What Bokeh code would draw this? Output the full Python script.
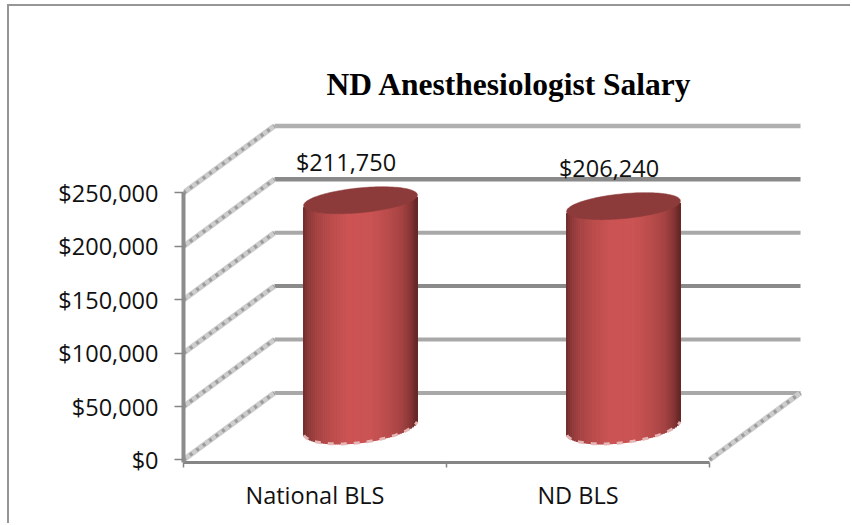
import numpy as np
from bokeh.embed import file_html
from bokeh.resources import INLINE
from bokeh.plotting import figure
from bokeh.models import Range1d, FixedTicker, Title
from bokeh.core.properties import value

title_text = "ND Anesthesiologist Salary"
categories = ["National BLS", "ND BLS"]
salaries = [211750, 206240]
y_ticks = [0, 50000, 100000, 150000, 200000, 250000]
y_tick_labels = ["$0", "$50,000", "$100,000", "$150,000", "$200,000", "$250,000"]
wall_colors = ["#a8a8a8", "#a8a8a8", "#8a8a8a", "#a8a8a8", "#8a8a8a", "#b0b0b0"]
wall_widths = [4, 4, 4, 4, 4.5, 4.5]

# Layout in page pixels of the reference
PAGE_X, PAGE_Y = 9, 6            # top-left corner of the canvas on the page
W, H = 843, 519
X0, Y0 = 183, 459.4              # position of category 0 / value 0
BOTTOM, RIGHT, TOP = 462.0, 806, 118
PX_CAT = 263.0                   # pixels per category
PX_VAL = 267.0 / 250000          # pixels per dollar
DX = 91.0 / PX_CAT               # depth offset of the chart box, in categories
DY = 67.0 / PX_VAL               # depth offset of the chart box, in dollars
A, D = 52.5 / PX_CAT, 22.0 / PX_CAT   # cylinder radii along categories, and the depth lean
E = 13.5 / PX_VAL                # cylinder vertical half-height of the ellipse
BASE = 1.3                       # the base ellipse bulges slightly more than the top one

F = "Open Sans"
FS = "23.5px"

p = figure(width=W, height=H, output_backend="svg", toolbar_location=None,
           x_range=Range1d(0, (RIGHT - X0) / PX_CAT),
           y_range=Range1d((Y0 - BOTTOM) / PX_VAL, (Y0 - TOP) / PX_VAL),
           min_border_left=X0 - PAGE_X, min_border_right=PAGE_X + W - RIGHT,
           min_border_top=TOP - PAGE_Y, min_border_bottom=PAGE_Y + H - int(BOTTOM),
           margin=(PAGE_Y, 0, 0, PAGE_X),
           styles={"box-shadow": "-2px -2px 0 0 #969696"})
p.outline_line_color = None
p.grid.visible = False


def project(cat, depth, val):
    return np.asarray(cat) + np.asarray(depth) * DX, np.asarray(val) + np.asarray(depth) * DY


# back wall
for v, c, w in zip(y_ticks, wall_colors, wall_widths):
    xs, ys = project([0, 2], [1, 1], [v, v])
    p.line(xs, ys, line_color=c, line_width=w)

# side wall and floor edge
edges = [(0, v) for v in y_ticks] + [(2, 0)]
for cat, v in edges:
    xs, ys = project([cat, cat], [0, 1], [v, v])
    p.line(xs, ys, line_color="#cccccc", line_width=5.5)
    p.line(xs, ys, line_color="#9c9c9c", line_width=3.5, line_dash="3 5")

# cylinders
pos = np.array([0, .04, .12, .25, .4, .6, .75, .88, .96, 1])
reds = np.array([0x74, 0x8e, 0xa8, 0xbd, 0xcd, 0xcb, 0xbb, 0xa4, 0x85, 0x68])
grn = np.array([0x2e, 0x3a, 0x45, 0x4e, 0x55, 0x54, 0x4d, 0x43, 0x35, 0x28])

half = np.hypot(A, D)
t0 = np.arctan2(D, A)
for i, s in enumerate(salaries):
    cx, cy = project(i + 0.5, 0.5, 0.0)
    t = np.linspace(t0 + np.pi, t0 + 2 * np.pi, 200)
    lx = cx + A * np.cos(t) + D * np.sin(t)
    arc = E * np.sin(t)
    edges_x = np.linspace(cx - half, cx + half, 58)
    mid = (edges_x[:-1] + edges_x[1:]) / 2
    low_top = cy + s + np.interp(mid, lx, arc)
    low_base = cy + BASE * np.interp(mid, lx, arc)
    f = (mid - mid[0]) / (mid[-1] - mid[0])
    colors = ["#%02x%02x%02x" % (int(np.interp(a, pos, reds)), int(np.interp(a, pos, grn)),
                                 int(np.interp(a, pos, grn))) for a in f]
    p.quad(left=edges_x[:-1], right=edges_x[1:], bottom=low_base, top=low_top,
           fill_color=colors, line_color=colors, line_width=1.2)
    p.line(lx[8:-8], cy + BASE * arc[8:-8], line_color="#e6b5b5", line_width=3, line_dash="6 7")
    a = np.linspace(0, 2 * np.pi, 120)
    p.patch(cx + A * np.cos(a) + D * np.sin(a), cy + s + E * np.sin(a),
            fill_color="#8c3a3a", line_color="#8c3a3a", line_width=0.5)
    p.text([cx], [cy + s], text=[f"${s:,}"], text_font=value(F), text_font_size=value(FS),
           text_color="#111111", text_align="center", text_baseline="middle",
           x_offset=-14.5, y_offset=-38)

# axes
ax = p.xaxis[0]
ax.ticker = FixedTicker(ticks=[0.5, 1.5], minor_ticks=[0, 1, 2])
ax.major_label_overrides = {0.5: categories[0], 1.5: categories[1]}
ax.bounds = (0, 2)
ax.axis_line_color = "#858585"
ax.axis_line_width = 3
ax.major_tick_line_color = None
ax.minor_tick_line_color = "#858585"
ax.minor_tick_line_width = 1.5
ax.minor_tick_out = 5
ax.minor_tick_in = 0
ax.major_label_text_font = F
ax.major_label_text_font_size = FS
ax.major_label_text_color = "#111111"
ax.major_label_standoff = 10

ay = p.yaxis[0]
ay.ticker = FixedTicker(ticks=y_ticks, minor_ticks=[])
ay.major_label_overrides = dict(zip(y_ticks, y_tick_labels))
ay.bounds = ((Y0 - BOTTOM) / PX_VAL, 250000)
ay.axis_line_color = "#8c8c8c"
ay.axis_line_width = 4
ay.major_tick_line_color = "#858585"
ay.major_tick_line_width = 1.5
ay.major_tick_out = 9
ay.major_tick_in = 0
ay.major_label_text_font = F
ay.major_label_text_font_size = FS
ay.major_label_text_color = "#111111"
ay.major_label_standoff = 16

p.title = Title(text=title_text, text_font="Liberation Serif", text_font_style="bold",
                text_font_size="31.5px", text_color="#000000", align="left",
                offset=326 - X0, standoff=34)

open("out.html", "w").write(file_html(p, INLINE))
